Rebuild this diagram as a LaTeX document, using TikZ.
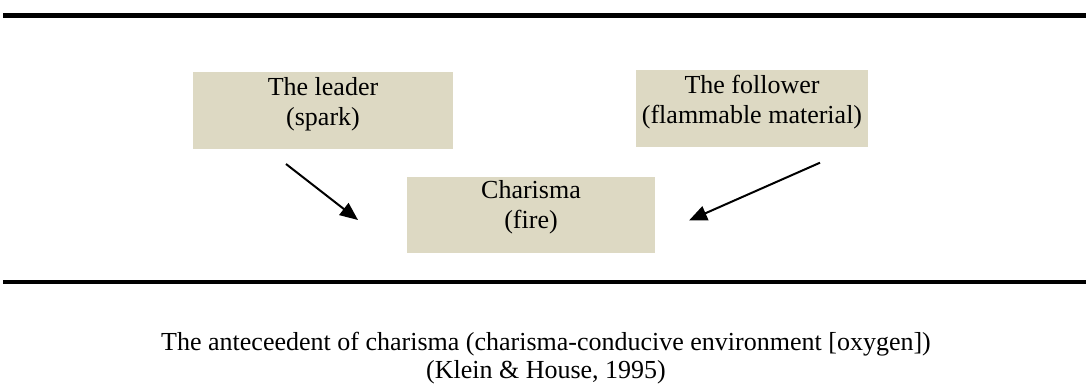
\documentclass[tikz,border=0pt]{standalone}
\usepackage{fontspec}
\setmainfont{Liberation Serif}
\usetikzlibrary{arrows.meta}
\definecolor{boxtan}{RGB}{221,217,195}
\tikzset{
  tanbox/.style={fill=boxtan, draw=none, inner sep=0pt, outer sep=0pt},
  boxtext/.style={anchor=base, inner sep=0pt, font=\fontsize{26}{30}\selectfont},
  rulebar/.style={line width=4.4pt},
  pointer/.style={line width=2pt, -{Triangle[length=18pt,width=15pt]}}
}
\begin{document}
\begin{tikzpicture}[x=1pt,y=-1pt]
\useasboundingbox (0,0) rectangle (1086,387);
% rules
\coordinate (t1) at (3,15.5);
\coordinate (t2) at (1086,15.5);
\coordinate (b1) at (3,281.7);
\coordinate (b2) at (1086,281.7);
\draw[rulebar] (t1) -- (t2);
\draw[rulebar] (b1) -- (b2);
% boxes
\node[tanbox, minimum width=260pt, minimum height=77pt] (leader) at (323,110.5) {};
\node[tanbox, minimum width=232pt, minimum height=77pt] (follower) at (752,108.5) {};
\node[tanbox, minimum width=248pt, minimum height=76pt] (charisma) at (531,215) {};
% texts
\node[boxtext] (leadertxt) at (323,96) {\begin{tabular}[t]{@{}c@{}}The leader\\(spark)\end{tabular}};
\node[boxtext] (followertxt) at (752,94) {\begin{tabular}[t]{@{}c@{}}The follower\\(flammable material)\end{tabular}};
\node[boxtext] (charismatxt) at (531,199) {\begin{tabular}[t]{@{}c@{}}Charisma\\(fire)\end{tabular}};
% arrows
\coordinate (ls) at (286,164);
\coordinate (le) at (358,220);
\coordinate (rs) at (820,162.7);
\coordinate (re) at (689,220.5);
\draw[pointer] (ls) -- (le);
\draw[pointer] (rs) -- (re);
% caption
\node[anchor=base, inner sep=0pt, font=\fontsize{26}{28}\selectfont] (caption) at (546,350)
  {\begin{tabular}[t]{@{}c@{}}The anteceedent of charisma (charisma-conducive environment [oxygen])\\(Klein \& House, 1995)\end{tabular}};
\end{tikzpicture}
\end{document}
